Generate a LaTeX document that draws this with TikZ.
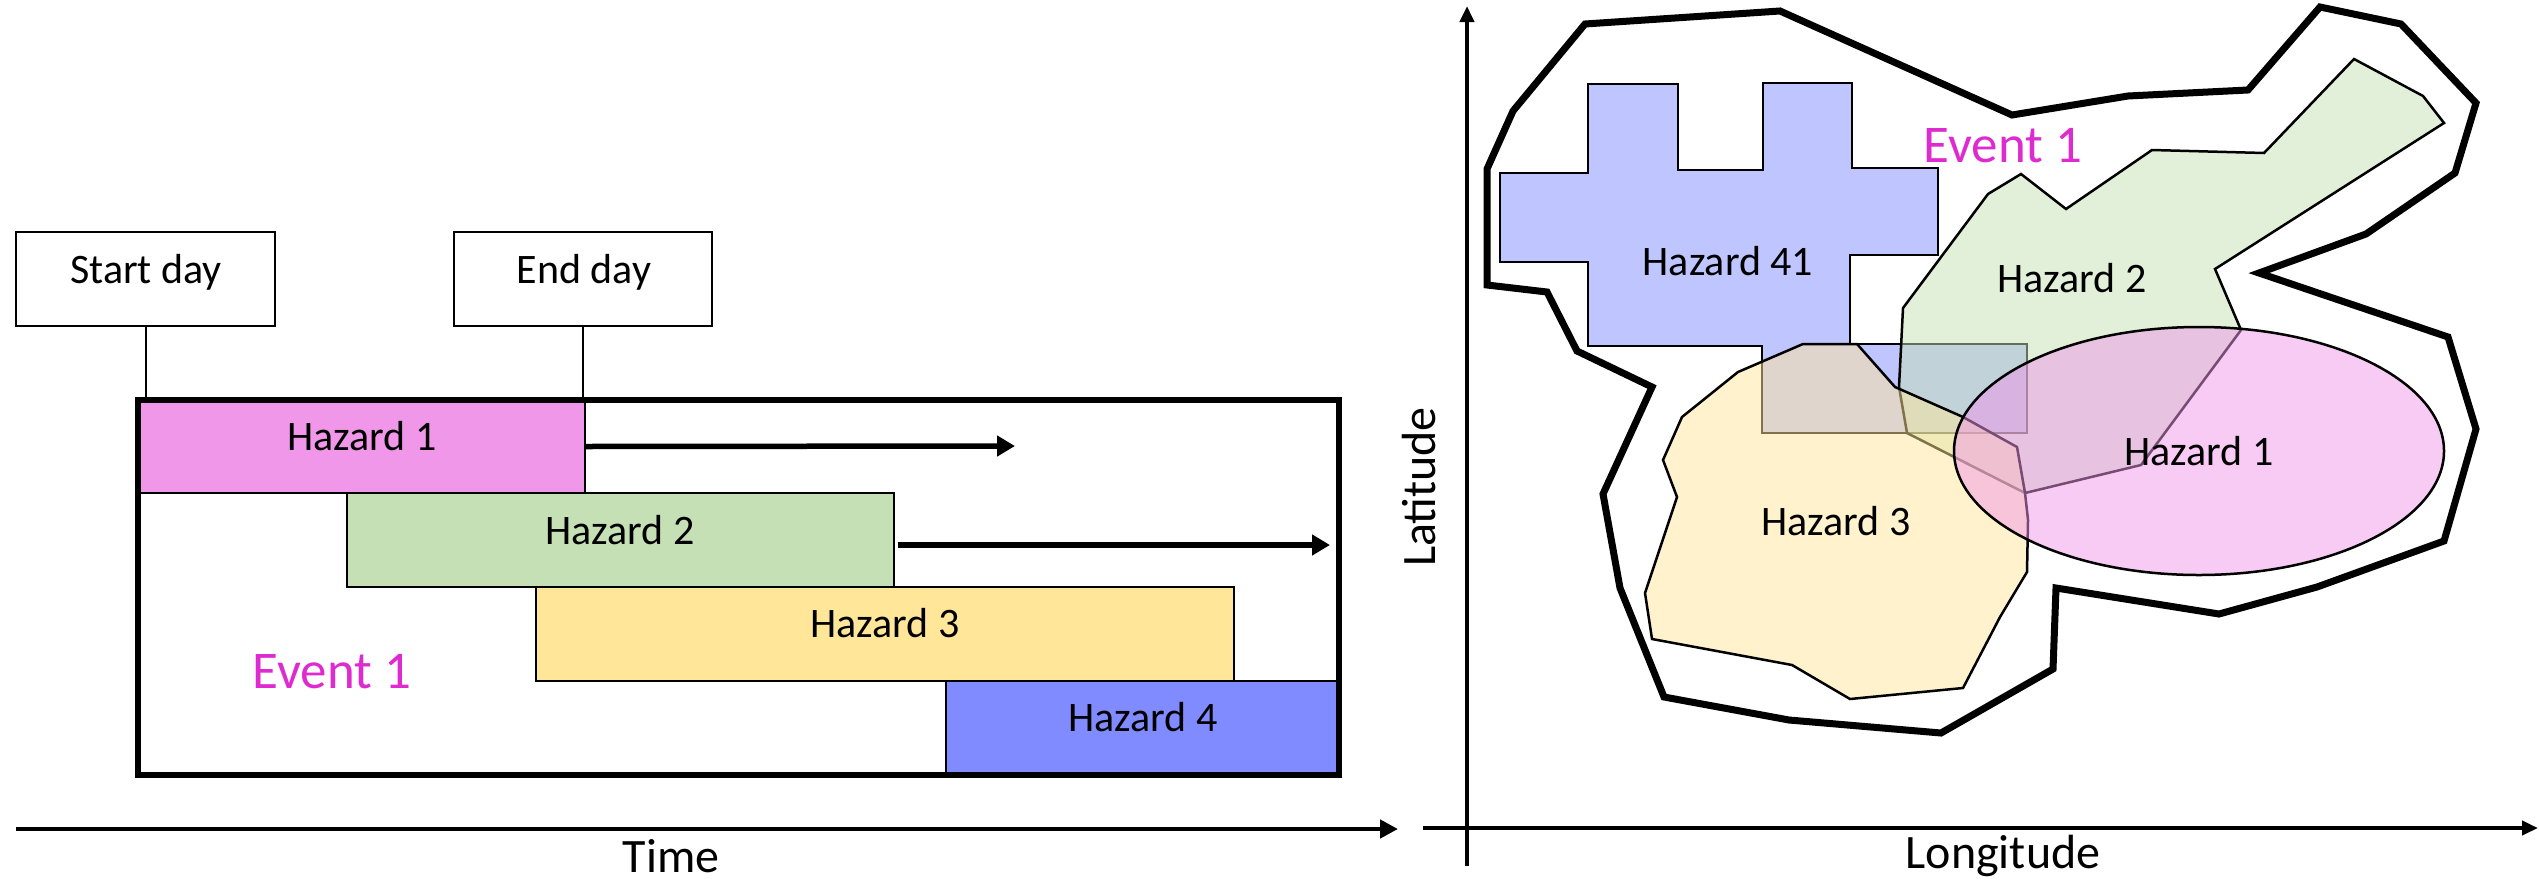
\documentclass[tikz,border=0pt]{standalone}
\usepackage{fontspec}
\setmainfont{Carlito}
\usetikzlibrary{arrows.meta}
\definecolor{hzA}{HTML}{F097E9}
\definecolor{hzB}{HTML}{C5E0B4}
\definecolor{hzC}{HTML}{FFE699}
\definecolor{hzD}{HTML}{7F8BFF}
\definecolor{evt}{HTML}{DE2BD0}
\begin{document}
\begin{tikzpicture}[x=1pt,y=-1pt,
  txt/.style={font=\fontsize{42}{50}\selectfont, anchor=base, inner sep=0pt},
  axtxt/.style={font=\fontsize{48}{56}\selectfont, anchor=base, inner sep=0pt},
  evtxt/.style={font=\fontsize{53}{62}\selectfont, text=evt, anchor=base, inner sep=0pt},
  box/.style={draw, line width=2.5pt, inner sep=0pt, outer sep=0pt, anchor=north west},
  thinln/.style={line width=2pt},
  arr/.style={line width=5.5pt, -{Triangle[length=18pt,width=20pt]}},
  axisln/.style={line width=4.5pt, -{Triangle[length=18pt,width=18pt]}},
  outline/.style={line width=7pt, line join=miter},
  region/.style={draw=black, line width=2.5pt, fill opacity=0.5}
]
\useasboundingbox (0,0) rectangle (2539,881);

% ---------------- left panel ----------------
\node[box, minimum width=259pt, minimum height=94pt] (sd) at (16,232) {};
\node[box, minimum width=258pt, minimum height=94pt] (ed) at (454,232) {};
\node[txt] (sdt) at (146,283) {Start day};
\node[txt] (edt) at (584,283) {End day};

\node[box, fill=hzA, minimum width=447pt, minimum height=93pt] (h1) at (138,400) {};
\node[box, fill=hzB, minimum width=547pt, minimum height=94pt] (h2) at (347,493) {};
\node[box, fill=hzC, minimum width=698pt, minimum height=94pt] (h3) at (536,587) {};
\node[box, fill=hzD, minimum width=393pt, minimum height=94pt] (h4) at (946,681) {};
\node[box, line width=6.5pt, minimum width=1201pt, minimum height=375pt] (ev) at (138,400) {};

\draw[thinln] (sd.south) -- (sd.south |- ev.north);
\draw[thinln] (ed.south) -- (ed.south |- ev.north);

\node[txt] (h1t) at (362,450) {Hazard 1};
\node[txt] (h2t) at (620,544) {Hazard 2};
\node[txt] (h3t) at (885,637) {Hazard 3};
\node[txt] (h4t) at (1143,731) {Hazard 4};
\node[evtxt] (evl) at (332,688) {Event 1};

\coordinate (a1e) at (1015,446);
\coordinate (a2e) at (1330,545);
\draw[arr] ([xshift=1pt]h1.east) -- (a1e);
\draw[arr] ([xshift=4pt,yshift=-5pt]h2.east) -- (a2e);

\coordinate (t0) at (16,829);
\coordinate (t1) at (1398,829);
\draw[axisln] (t0) -- (t1);
\node[axtxt] (time) at (671,872) {Time};

% ---------------- right panel ----------------
\draw[outline] (1585,24) -- (1780,11) -- (2012,115) -- (2128,96) -- (2248,90) -- (2320,7)
  -- (2401,24) -- (2476,103) -- (2455,173) -- (2366,234) -- (2259,273) -- (2448,337)
  -- (2476,429) -- (2444,541) -- (2317,587) -- (2219,614) -- (2056,588) -- (2053,669)
  -- (1941,733) -- (1789,720) -- (1664,697) -- (1620,588) -- (1603,494) -- (1652,387)
  -- (1577,351) -- (1547,292) -- (1487,285) -- (1487,169) -- (1513,111) -- cycle;

% Hazard 41
\draw[region, fill=hzD] (1588,84) -- (1678,84) -- (1678,170) -- (1763,170) -- (1763,83)
  -- (1852,83) -- (1852,168) -- (1938,168) -- (1938,255) -- (1850,255) -- (1850,344)
  -- (2027,344) -- (2027,433) -- (1762,433) -- (1762,346) -- (1588,346) -- (1588,262)
  -- (1500,262) -- (1500,173) -- (1588,173) -- cycle;
% Hazard 2
\draw[region, fill=hzB] (2021,174) -- (2066,209) -- (2152,150) -- (2264,153) -- (2354,59)
  -- (2423,96) -- (2444,123) -- (2215,269) -- (2241,330) -- (2141,465) -- (2025,493)
  -- (1907,433) -- (1899,387) -- (1903,308) -- (1988,194) -- cycle;
% Hazard 3
\draw[region, fill=hzC] (1803,344) -- (1857,344) -- (1895,387) -- (1963,417) -- (2017,447)
  -- (2025,493) -- (2028,520) -- (2027,572) -- (2000,617) -- (1963,688) -- (1850,699)
  -- (1792,665) -- (1652,639) -- (1645,593) -- (1677,497) -- (1663,460) -- (1682,417)
  -- (1738,372) -- cycle;
% Hazard 1
\draw[region, fill=hzA] (2199,451) ellipse [x radius=245, y radius=124];

\node[txt] (r41) at (1728,275) {Hazard 41};
\node[txt] (r2) at (2072,292) {Hazard 2};
\node[txt] (r1) at (2199,465) {Hazard 1};
\node[txt] (r3) at (1836,535) {Hazard 3};
\node[evtxt] (evr) at (2003,162) {Event 1};

\coordinate (o1) at (1467,866);
\coordinate (yt) at (1467,6);
\coordinate (o2) at (1423,828);
\coordinate (xt) at (2538,828);
\draw[axisln, line width=4pt, -{Triangle[length=16pt,width=14pt]}] (o1) -- (yt);
\draw[axisln, line width=4pt, -{Triangle[length=16pt,width=14pt]}] (o2) -- (xt);
\node[axtxt, rotate=90] (lat) at (1435,487) {Latitude};
\node[axtxt] (lon) at (2003,868) {Longitude};
\end{tikzpicture}
\end{document}
